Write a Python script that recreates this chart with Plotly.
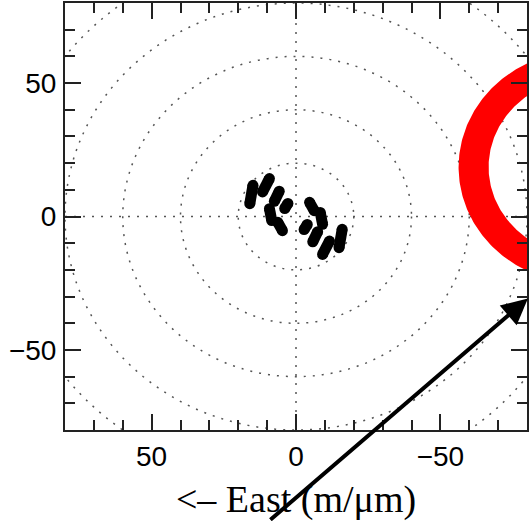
import numpy as np
import plotly.graph_objects as go

# (u, v) coverage tracks: start and end of each track; the conjugate
# tracks (-u, -v) are drawn from the same values.
track_u_start = [14.9, 9.2, 5.8, 2.8, 9.2, 6.3]
track_v_start = [11.7, 14.2, 9.5, 4.9, 2.9, -2.2]
track_u_end = [16.0, 11.6, 7.5, 3.9, 8.4, 4.7]
track_v_end = [4.8, 9.2, 5.7, 3.0, -1.5, -5.3]

# dotted range rings (m/um)
ring_radii = [20, 40, 60, 80, 100]

# axis ticks
tick_values = [50, 0, -50]
axis_limit = 80

# red annulus: centre and inner/outer radii
arc_center_u, arc_center_v = -100.0, 18.5
arc_inner_r, arc_outer_r = 33.3, 43.7

AXIS_COLOR = "#222222"
DOT_COLOR = "#555555"
DOTTED = dict(color=DOT_COLOR, width=1.5, dash="2px,7px")

fig = go.Figure()

# range rings as dotted circles
shapes = []
for r in ring_radii:
    shapes.append(dict(
        type="circle", xref="x", yref="y",
        x0=-r, x1=r, y0=-r, y1=r,
        line=DOTTED, layer="below",
    ))
# dotted cross-hair through the origin
shapes.append(dict(type="line", xref="x", yref="y",
                   x0=axis_limit, x1=-axis_limit, y0=0, y1=0,
                   line=DOTTED, layer="below"))
shapes.append(dict(type="line", xref="x", yref="y",
                   x0=0, x1=0, y0=-axis_limit, y1=axis_limit,
                   line=DOTTED, layer="below"))

# coverage tracks and their conjugates
for u0, v0, u1, v1 in zip(track_u_start, track_v_start, track_u_end, track_v_end):
    for s in (1, -1):
        fig.add_trace(go.Scatter(
            x=[s * u0, s * u1], y=[s * v0, s * v1],
            mode="lines+markers",
            line=dict(color="black", width=11),
            marker=dict(color="black", size=11, symbol="circle"),
            hoverinfo="skip", showlegend=False,
        ))

# red annulus (only the part inside the axes is visible)
theta = np.linspace(-np.pi / 2, np.pi / 2, 181)
outer_u = arc_center_u + arc_outer_r * np.cos(theta)
outer_v = arc_center_v + arc_outer_r * np.sin(theta)
inner_u = arc_center_u + arc_inner_r * np.cos(theta[::-1])
inner_v = arc_center_v + arc_inner_r * np.sin(theta[::-1])
fig.add_trace(go.Scatter(
    x=np.concatenate([outer_u, inner_u]),
    y=np.concatenate([outer_v, inner_v]),
    mode="lines", fill="toself", fillcolor="#ff0000",
    line=dict(color="#ff0000", width=0),
    hoverinfo="skip", showlegend=False,
))

axis_common = dict(
    tickvals=tick_values,
    ticks="inside", ticklen=16, tickwidth=2, tickcolor=AXIS_COLOR,
    minor=dict(dtick=10, ticks="inside", ticklen=10, tickwidth=2,
               tickcolor=AXIS_COLOR),
    showline=True, linecolor=AXIS_COLOR, linewidth=2, mirror="allticks",
    showgrid=False, zeroline=False,
    tickfont=dict(family="Liberation Sans, Arial, sans-serif", size=28,
                  color="black"),
)

fig.update_layout(
    width=530, height=521,
    margin=dict(l=65, r=1, t=2, b=91),
    paper_bgcolor="white", plot_bgcolor="white",
    shapes=shapes,
    xaxis=dict(range=[axis_limit, -axis_limit],
               title=dict(text="<\u2013 East (m/\u03bcm)",
                          font=dict(family="Liberation Serif, Times New Roman, serif",
                                    size=38, color="black"),
                          standoff=17),
               ticklabelstandoff=0,
               **axis_common),
    yaxis=dict(range=[-axis_limit, axis_limit],
               ticklabelstandoff=1,
               **axis_common),
    annotations=[dict(
        xref="paper", yref="paper", x=1.002, y=0.308,
        ax=-259, ay=224, axref="pixel", ayref="pixel",
        text="", showarrow=True,
        arrowhead=2, arrowsize=1.3, arrowwidth=4, arrowcolor="black",
        standoff=0,
    )],
)

fig.write_html("out.html")
